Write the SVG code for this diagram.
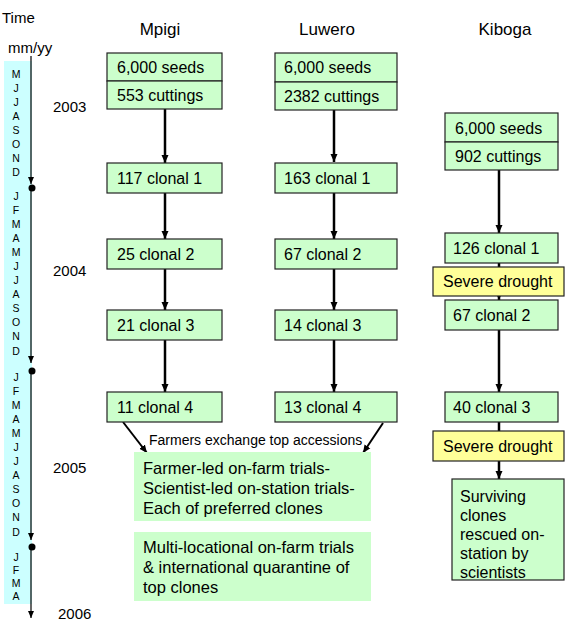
<svg xmlns="http://www.w3.org/2000/svg" width="565" height="622" viewBox="0 0 565 622">
<style>
text{font-family:"Liberation Sans",Arial,sans-serif;fill:#000}
.hdr{font-size:17px}
.lbl{font-size:15px}
.yr{font-size:15px}
.mo{font-size:10.5px;text-anchor:middle}
.bx{fill:#ccffcc;stroke:#222;stroke-width:1.2}
.yb{fill:#ffff99;stroke:#222;stroke-width:1.2}
.gb{fill:#ccffcc;stroke:none}
.bt{font-size:16px}
.big{font-size:16.5px}
.con{stroke:#000;stroke-width:2.5;fill:none}
.diag{stroke:#000;stroke-width:2;fill:none}
.tl{stroke:#000;stroke-width:1.2;fill:none}
</style>
<defs>
<marker id="ah" markerUnits="userSpaceOnUse" markerWidth="8" markerHeight="8" viewBox="0 0 8 8" refX="8" refY="4" orient="auto">
<path d="M0,0.5 L8,4 L0,7.5 Z" fill="#000"/>
</marker>
<marker id="ahs" markerUnits="userSpaceOnUse" markerWidth="7" markerHeight="7" viewBox="0 0 7 7" refX="7" refY="3.5" orient="auto">
<path d="M0,0.5 L7,3.5 L0,6.5 Z" fill="#000"/>
</marker>
</defs>

<g id="timeline">
<rect x="4" y="61" width="28" height="543" fill="#ccffff"/>
<text x="2" y="23" class="lbl">Time</text>
<text x="8" y="53" class="lbl">mm/yy</text>
<g>
<text x="16" y="78" class="mo">M</text>
<text x="16" y="92" class="mo">J</text>
<text x="16" y="106" class="mo">J</text>
<text x="16" y="120" class="mo">A</text>
<text x="16" y="134" class="mo">S</text>
<text x="16" y="148" class="mo">O</text>
<text x="16" y="162" class="mo">N</text>
<text x="16" y="176" class="mo">D</text>
<text x="16" y="200" class="mo">J</text>
<text x="16" y="214" class="mo">F</text>
<text x="16" y="228" class="mo">M</text>
<text x="16" y="242" class="mo">A</text>
<text x="16" y="256" class="mo">M</text>
<text x="16" y="270" class="mo">J</text>
<text x="16" y="284" class="mo">J</text>
<text x="16" y="298" class="mo">A</text>
<text x="16" y="312" class="mo">S</text>
<text x="16" y="326" class="mo">O</text>
<text x="16" y="340" class="mo">N</text>
<text x="16" y="355" class="mo">D</text>
<text x="16" y="381" class="mo">J</text>
<text x="16" y="395" class="mo">F</text>
<text x="16" y="409" class="mo">M</text>
<text x="16" y="423" class="mo">A</text>
<text x="16" y="437" class="mo">M</text>
<text x="16" y="451" class="mo">J</text>
<text x="16" y="465" class="mo">J</text>
<text x="16" y="479" class="mo">A</text>
<text x="16" y="493" class="mo">S</text>
<text x="16" y="507" class="mo">O</text>
<text x="16" y="521" class="mo">N</text>
<text x="16" y="536" class="mo">D</text>
<text x="16" y="561" class="mo">J</text>
<text x="16" y="574" class="mo">F</text>
<text x="16" y="587" class="mo">M</text>
<text x="16" y="600" class="mo">A</text>
</g>
<line x1="31" y1="56" x2="31" y2="184" class="tl" marker-end="url(#ahs)"/>
<circle cx="32" cy="188" r="3.5" fill="#000"/>
<line x1="31" y1="188" x2="31" y2="363" class="tl" marker-end="url(#ahs)"/>
<circle cx="32" cy="371" r="3.5" fill="#000"/>
<line x1="31" y1="371" x2="31" y2="540" class="tl" marker-end="url(#ahs)"/>
<circle cx="32" cy="547" r="3.5" fill="#000"/>
<line x1="31" y1="547" x2="31" y2="618" class="tl" marker-end="url(#ahs)"/>
<text x="53" y="112" class="yr">2003</text>
<text x="53" y="276" class="yr">2004</text>
<text x="53" y="473" class="yr">2005</text>
<text x="58" y="619" class="yr">2006</text>
</g>

<g id="headers">
<text x="160" y="35" class="hdr" text-anchor="middle">Mpigi</text>
<text x="327" y="35" class="hdr" text-anchor="middle">Luwero</text>
<text x="505" y="35" class="hdr" text-anchor="middle">Kiboga</text>
</g>

<g id="connectors">
<line x1="165" y1="109" x2="165" y2="163" class="con" marker-end="url(#ah)"/>
<line x1="165" y1="193" x2="165" y2="239" class="con" marker-end="url(#ah)"/>
<line x1="165" y1="269" x2="165" y2="310" class="con" marker-end="url(#ah)"/>
<line x1="165" y1="340" x2="165" y2="392" class="con" marker-end="url(#ah)"/>
<line x1="334" y1="110" x2="334" y2="162" class="con" marker-end="url(#ah)"/>
<line x1="334" y1="193" x2="334" y2="239" class="con" marker-end="url(#ah)"/>
<line x1="334" y1="269" x2="334" y2="310" class="con" marker-end="url(#ah)"/>
<line x1="334" y1="340" x2="334" y2="392" class="con" marker-end="url(#ah)"/>
<line x1="499" y1="170" x2="499" y2="233" class="con" marker-end="url(#ah)"/>
<line x1="499" y1="263" x2="499" y2="267" class="con"/>
<line x1="499" y1="296" x2="499" y2="300" class="con" marker-end="url(#ah)"/>
<line x1="499" y1="330" x2="499" y2="392" class="con" marker-end="url(#ah)"/>
<line x1="499" y1="422" x2="499" y2="431" class="con"/>
<line x1="499" y1="461" x2="499" y2="479" class="con" marker-end="url(#ah)"/>
<line x1="123" y1="422" x2="147" y2="453" class="diag" marker-end="url(#ah)"/>
<line x1="383" y1="423" x2="363" y2="453" class="diag" marker-end="url(#ah)"/>
<text x="149" y="445" font-size="14px">Farmers exchange top accessions</text>
</g>

<g id="mpigi-start">
<rect x="107" y="53" width="115" height="28" class="bx"/>
<rect x="107" y="81" width="115" height="28" class="bx"/>
<text x="117" y="73" class="bt">6,000 seeds</text>
<text x="117" y="101" class="bt">553 cuttings</text>
</g>
<g id="mpigi-c1"><rect x="107" y="163" width="115" height="30" class="bx"/><text x="117" y="184" class="bt">117 clonal 1</text></g>
<g id="mpigi-c2"><rect x="107" y="239" width="115" height="30" class="bx"/><text x="117" y="260" class="bt">25 clonal 2</text></g>
<g id="mpigi-c3"><rect x="107" y="310" width="115" height="30" class="bx"/><text x="117" y="331" class="bt">21 clonal 3</text></g>
<g id="mpigi-c4"><rect x="107" y="392" width="115" height="30" class="bx"/><text x="117" y="413" class="bt">11 clonal 4</text></g>

<g id="luwero-start">
<rect x="275" y="53" width="122" height="29" class="bx"/>
<rect x="275" y="82" width="122" height="28" class="bx"/>
<text x="284" y="73" class="bt">6,000 seeds</text>
<text x="284" y="102" class="bt">2382 cuttings</text>
</g>
<g id="luwero-c1"><rect x="275" y="163" width="122" height="30" class="bx"/><text x="284" y="184" class="bt">163 clonal 1</text></g>
<g id="luwero-c2"><rect x="275" y="239" width="122" height="30" class="bx"/><text x="284" y="260" class="bt">67 clonal 2</text></g>
<g id="luwero-c3"><rect x="275" y="310" width="122" height="30" class="bx"/><text x="284" y="331" class="bt">14 clonal 3</text></g>
<g id="luwero-c4"><rect x="275" y="392" width="122" height="30" class="bx"/><text x="284" y="413" class="bt">13 clonal 4</text></g>

<g id="kiboga-start">
<rect x="445" y="113" width="113" height="29" class="bx"/>
<rect x="445" y="142" width="113" height="28" class="bx"/>
<text x="455" y="134" class="bt">6,000 seeds</text>
<text x="455" y="162" class="bt">902 cuttings</text>
</g>
<g id="kiboga-c1"><rect x="445" y="233" width="113" height="30" class="bx"/><text x="453" y="254" class="bt">126 clonal 1</text></g>
<g id="kiboga-d1"><rect x="433" y="267" width="131" height="29" class="yb"/><text x="443" y="287" class="bt">Severe drought</text></g>
<g id="kiboga-c2"><rect x="445" y="300" width="113" height="30" class="bx"/><text x="453" y="321" class="bt">67 clonal 2</text></g>
<g id="kiboga-c3"><rect x="445" y="392" width="113" height="30" class="bx"/><text x="453" y="413" class="bt">40 clonal 3</text></g>
<g id="kiboga-d2"><rect x="433" y="431" width="131" height="30" class="yb"/><text x="443" y="452" class="bt">Severe drought</text></g>
<g id="kiboga-rescue">
<rect x="452" y="479" width="112" height="101" class="bx"/>
<text class="bt"><tspan x="460" y="502">Surviving</tspan><tspan x="460" y="521">clones</tspan><tspan x="460" y="540">rescued on-</tspan><tspan x="460" y="559">station by</tspan><tspan x="460" y="578">scientists</tspan></text>
</g>

<g id="onfarm-trials">
<rect x="134" y="452" width="237" height="69" class="gb"/>
<text class="big"><tspan x="143" y="474">Farmer-led on-farm trials-</tspan><tspan x="143" y="494">Scientist-led on-station trials-</tspan><tspan x="143" y="514">Each of preferred clones</tspan></text>
</g>
<g id="multilocational">
<rect x="134" y="532" width="237" height="69" class="gb"/>
<text class="big"><tspan x="143" y="553">Multi-locational on-farm trials</tspan><tspan x="143" y="573">&amp; international quarantine of</tspan><tspan x="143" y="593">top clones</tspan></text>
</g>
</svg>
